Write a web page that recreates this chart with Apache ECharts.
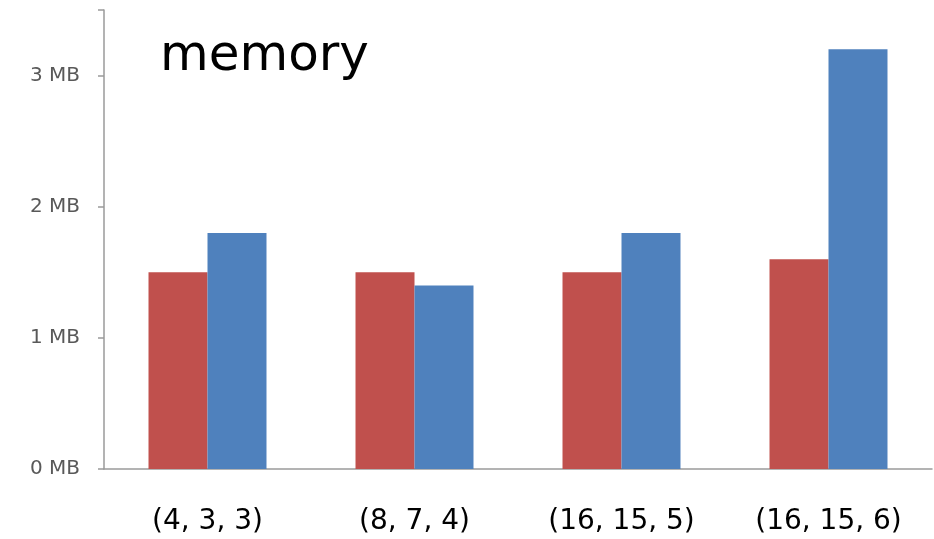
<!DOCTYPE html>
<html>
<head>
<meta charset="utf-8">
<script src="https://cdn.jsdelivr.net/npm/echarts@6/dist/echarts.min.js"></script>
<style>
  html, body { margin: 0; padding: 0; background: #fff; }
  #chart { width: 934px; height: 539px; }
</style>
</head>
<body>
<div id="chart"></div>
<script>
const categories = ['(4, 3, 3)', '(8, 7, 4)', '(16, 15, 5)', '(16, 15, 6)']
const redValues = [1.5, 1.5, 1.5, 1.6]
const blueValues = [1.8, 1.4, 1.8, 3.2]
const yTicks = [0, 1, 2, 3]

const chart = echarts.init(document.getElementById('chart'))

const option = {
  animation: false,
  title: {
    text: 'memory',
    left: 155,
    top: 27,
    textStyle: { fontFamily: 'DejaVu Sans', fontWeight: 'normal', fontSize: 50, color: '#000' }
  },
  grid: { left: 104, right: 2, top: 10, bottom: 70 },
  xAxis: {
    type: 'category',
    data: categories,
    axisLine: { lineStyle: { color: '#9a9a9a', width: 1.5 } },
    axisTick: { length: 11, lineStyle: { color: '#9a9a9a', width: 1.5 } },
    axisLabel: { fontFamily: 'DejaVu Sans', fontSize: 28, color: '#000', margin: 39 }
  },
  yAxis: {
    type: 'value',
    min: 0,
    max: 3.5,
    interval: 1,
    axisLine: { show: true, lineStyle: { color: '#9a9a9a', width: 1.5 } },
    axisTick: { show: true, length: 6, lineStyle: { color: '#9a9a9a', width: 1.5 } },
    splitLine: { show: false },
    axisLabel: {
      fontFamily: 'DejaVu Sans',
      fontSize: 20,
      color: '#595959',
      margin: 24,
      formatter: v => (yTicks.includes(v) ? v + ' MB' : '')
    }
  },
  series: [
    {
      name: 'red',
      type: 'bar',
      data: redValues,
      barGap: '0%',
      barCategoryGap: '43%',
      itemStyle: { color: '#C0504D' }
    },
    {
      name: 'blue',
      type: 'bar',
      data: blueValues,
      itemStyle: { color: '#4F81BD' }
    }
  ]
}

chart.setOption(option)
</script>
</body>
</html>
